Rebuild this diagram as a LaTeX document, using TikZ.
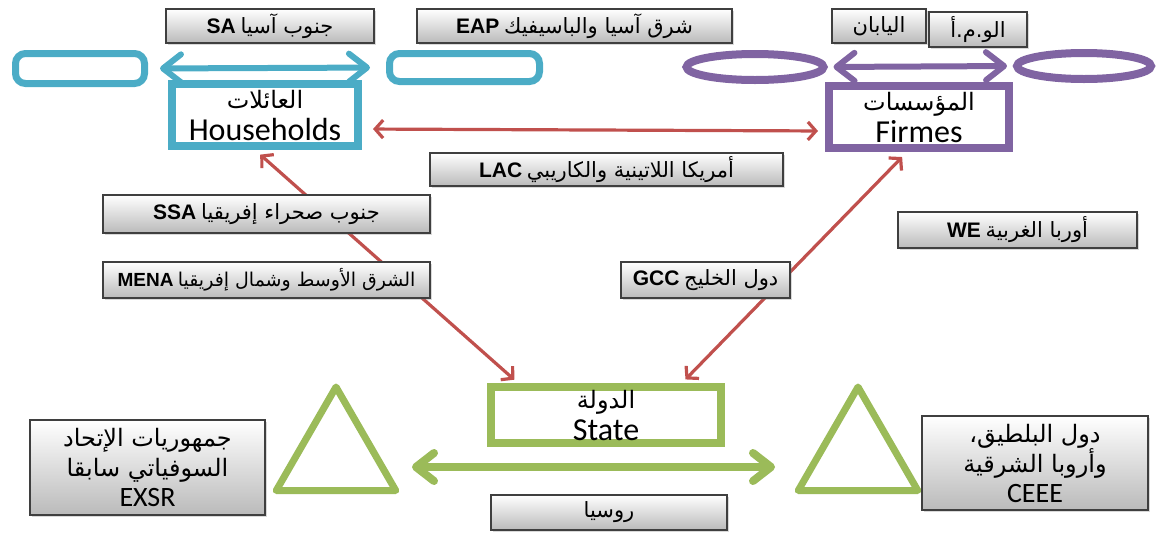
\documentclass[tikz,border=0pt]{standalone}
\usepackage{fontspec}
\setmainfont{Carlito}
\newfontfamily\arabicfont[Script=Arabic]{DejaVu Sans}
\newfontfamily\acrofont{Liberation Sans}
\TeXXeTstate=1
\usetikzlibrary{arrows.meta,shapes.geometric,shadows,calc}
\definecolor{hh}{HTML}{4BACC6}
\definecolor{fm}{HTML}{8064A2}
\definecolor{st}{HTML}{9BBB59}
\definecolor{rd}{HTML}{C0504D}
\definecolor{rim}{HTML}{3F3F3F}
\newcommand{\ar}[1]{{\arabicfont\beginR #1\endR}}
\newcommand{\acr}[1]{{\acrofont\bfseries #1}}
\tikzset{
  tag/.style={draw=rim, line width=0.6pt, top color=white, bottom color=black!27, drop shadow={shadow xshift=1.2pt, shadow yshift=-1.2pt, opacity=0.3}, align=center, inner sep=1pt, font=\fontsize{10.5}{13}\selectfont},
  agent/.style={draw, line width=4pt, fill=white, align=center, inner sep=0pt, font=\fontsize{16}{15}\selectfont},
  pill/.style={draw=hh, line width=3.5pt, rounded corners=5pt, inner sep=0pt},
  oval/.style={ellipse, draw=fm, line width=4pt, inner sep=0pt},
  tri/.style={regular polygon, regular polygon sides=3, draw=st, line width=3.5pt, line join=round, minimum size=69pt, inner sep=0pt},
  flow/.style={{Straight Barb[length=4pt,width=9pt]}-{Straight Barb[length=4pt,width=9pt]}, rd, line width=1.6pt},
  wide/.style={{Straight Barb[length=9pt,width=14pt,round]}-{Straight Barb[length=9pt,width=14pt,round]}, line width=3pt},
}
\begin{document}
\begin{tikzpicture}[x=0.5pt, y=-0.5pt]
  \useasboundingbox (0,0) rectangle (1161,536);
  % main agents
  \node[agent, draw=hh, minimum width=93pt, minimum height=31pt] (hh) at (265,115) {{\fontsize{12}{13}\selectfont\ar{العائلات}}\\[1pt]Households};
  \node[agent, draw=fm, minimum width=90pt, minimum height=31pt] (fi) at (919,117) {{\fontsize{12}{13}\selectfont\ar{المؤسسات}}\\[1pt]Firmes};
  \node[agent, draw=st, minimum width=115pt, minimum height=28pt] (st) at (606,415) {{\fontsize{12}{13}\selectfont\ar{الدولة}}\\[1pt]State};
  % side shapes
  \node[pill, minimum width=64.5pt, minimum height=15pt] (pL) at (80,68.5) {};
  \node[pill, minimum width=75pt, minimum height=14pt] (pR) at (464.5,67.5) {};
  \node[oval, minimum width=68.5pt, minimum height=13pt] (eL) at (755,67) {};
  \node[oval, minimum width=67pt, minimum height=13pt] (eR) at (1084,66) {};
  \node[tri] (tL) at (336,456) {};
  \node[tri] (tR) at (858,456) {};
  % connectors
  \draw[wide, hh, shorten <=6pt, shorten >=8pt] (pL.east) -- (pR.west);
  \draw[wide, fm, shorten <=3pt, shorten >=3pt] (eL.east) -- (eR.west);
  \draw[wide, st, line width=4pt] ($(tL.center)+(76,11)$) -- ($(tR.center)+(-83,11)$);
  \draw[flow, shorten <=5.5pt, shorten >=3.5pt] ($(hh.east)+(0,14)$) -- ($(fi.west)+(0,14)$);
  \draw[flow, shorten <=3.5pt, shorten >=2.5pt] ($(hh.south)+(-10,0)$) -- ($(st.north)+(-88,0)$);
  \draw[flow, shorten <=3.5pt, shorten >=2.5pt] ($(fi.south)+(-12,0)$) -- ($(st.north)+(76,0)$);
  % region labels
  \node[tag, minimum width=104pt, minimum height=17pt] (sa) at (270,26) {\acr{SA}~\ar{جنوب آسيا}};
  \node[tag, minimum width=157.5pt, minimum height=17pt] (eap) at (574.5,26) {\acr{EAP}~\ar{شرق آسيا والباسيفيك}};
  \node[tag, minimum width=47pt, minimum height=17pt] (jp) at (879,26) {\ar{اليابان}};
  \node[tag, minimum width=49pt, minimum height=17.5pt] (us) at (978,29.5) {\ar{الو.م.أ}};
  \node[tag, minimum width=176.5pt, minimum height=16.5pt] (lac) at (606.5,169.5) {\acr{LAC}~\ar{أمريكا اللاتينية والكاريبي}};
  \node[tag, minimum width=163.5pt, minimum height=19pt] (ssa) at (266.5,214) {\acr{SSA}~\ar{جنوب صحراء إفريقيا}};
  \node[tag, minimum width=163.5pt, minimum height=18pt, font=\fontsize{9.5}{12}\selectfont] (mena) at (266.5,280) {\acr{MENA}~\ar{الشرق الأوسط وشمال إفريقيا}};
  \node[tag, minimum width=119.5pt, minimum height=18pt] (we) at (1017.5,230) {\acr{WE}~\ar{أوربا الغربية}};
  \node[tag, minimum width=84.5pt, minimum height=18pt] (gcc) at (705.5,280) {\acr{GCC}~\ar{دول الخليج}};
  \node[tag, minimum width=118pt, minimum height=17.5pt] (ru) at (609,512.5) {\ar{روسيا}};
  \node[tag, minimum width=117.5pt, minimum height=47.5pt, font=\fontsize{12}{15}\selectfont] (exsr) at (147.5,467.5) {\ar{جمهوريات الإتحاد}\\\ar{السوفياتي سابقا}\\{\fontsize{14}{14}\selectfont EXSR}};
  \node[tag, minimum width=113pt, minimum height=47pt, font=\fontsize{12}{15}\selectfont] (ceee) at (1035,463) {\ar{دول البلطيق،}\\\ar{وأروبا الشرقية}\\{\fontsize{14}{14}\selectfont CEEE}};
\end{tikzpicture}
\end{document}
